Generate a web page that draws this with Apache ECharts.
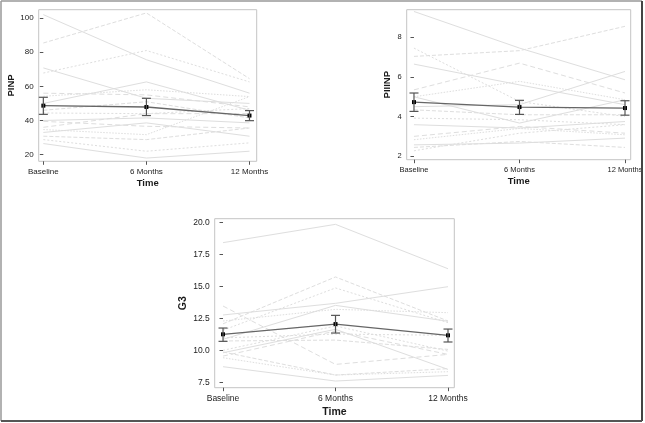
<!DOCTYPE html>
<html><head><meta charset="utf-8">
<script src="https://cdn.jsdelivr.net/npm/echarts@6/dist/echarts.min.js"></script>
<style>html,body{margin:0;padding:0;background:#fff}#c{width:645px;height:423px}</style>
</head><body><div id="c"></div>
<script>
// ---- Data ----
const timeLabels = ['Baseline', '6 Months', '12 Months'];

// PINP: individual subjects [Baseline, 6 Months, 12 Months]
const pinpSubjects = [
  [102, 75.6, 56], [85.4, 103, 64.5], [67.8, 81, 62.6], [70.8, 53, 50],
  [56, 55, 48], [54.2, 58, 54], [50, 62.6, 46], [46, 51, 41.5],
  [44.4, 44, 47], [40, 41.5, 38.6], [39.5, 36.6, 35.6], [34.7, 31.7, 54],
  [33, 38.6, 30.8], [30.8, 28.8, 35.6], [28.8, 22, 26.9], [26.5, 18, 22],
  [36, 44, 44]
];
const pinpMean = [48.7, 47.9, 42.9];
const pinpLow = [43.6, 42.9, 39.9];
const pinpHigh = [53.6, 53.0, 45.8];
const pinpTicks = [20, 40, 60, 80, 100];

// PIIINP
const piiinpSubjects = [
  [9.31, 7.46, 5.86], [7.04, 7.33, 8.56], [7.46, 4.76, 4.0], [6.65, 5.6, 4.6],
  [5.35, 6.7, 5.19], [5.0, 5.78, 4.85], [4.5, 4.6, 6.28], [4.34, 4.09, 4.09],
  [3.92, 3.84, 3.59], [3.59, 3.42, 3.75], [3.0, 3.5, 3.16], [2.83, 3.4, 3.08],
  [2.57, 2.66, 2.91], [2.44, 2.74, 2.44], [2.27, 3.16, 3.59], [5.0, 3.67, 4.85]
];
const piiinpMean = [4.73, 4.48, 4.43];
const piiinpLow = [4.26, 4.11, 4.07];
const piiinpHigh = [5.19, 4.82, 4.80];
const piiinpTicks = [2, 4, 6, 8];

// G3
const g3Subjects = [
  [18.44, 19.87, 16.4], [12.1, 15.76, 12.32], [11.6, 14.9, 12.19], [12.79, 13.7, 15.0],
  [13.49, 8.93, 9.71], [12.32, 13.23, 12.97], [10.89, 13.54, 12.3], [10.76, 10.83, 10.1],
  [10.03, 11.93, 9.97], [9.84, 11.67, 8.54], [9.58, 11.54, 9.71], [9.45, 8.1, 8.36],
  [8.75, 7.63, 8.07], [9.9, 8.1, 8.6], [11.0, 11.3, 11.2]
];
const g3Mean = [11.28, 12.08, 11.2];
const g3Low = [10.73, 11.38, 10.68];
const g3High = [11.77, 12.76, 11.69];
const g3Ticks = [7.5, 10.0, 12.5, 15.0, 17.5, 20.0];

// ---- Build ----
const FONT = 'Liberation Sans, Arial, sans-serif';
const panels = [
  {name: 'PINP', subjects: pinpSubjects, mean: pinpMean, low: pinpLow, high: pinpHigh, ticks: pinpTicks,
   grid: {left: 38.7, top: 9.7, width: 218, height: 151.6}, xmin: -0.045, xmax: 2.07, ymin: 16.1, ymax: 104.9,
   fs: 8, nfs: 9.5, yGap: 22.5, xGap: 17.5, fmt: v => String(v)},
  {name: 'PIIINP', subjects: piiinpSubjects, mean: piiinpMean, low: piiinpLow, high: piiinpHigh, ticks: piiinpTicks,
   grid: {left: 406.7, top: 9.7, width: 224, height: 150}, xmin: -0.069, xmax: 2.054, ymin: 1.82, ymax: 9.40,
   fs: 7.5, nfs: 9.5, yGap: 14, xGap: 17, fmt: v => String(v)},
  {name: 'G3', subjects: g3Subjects, mean: g3Mean, low: g3Low, high: g3High, ticks: g3Ticks,
   grid: {left: 214.7, top: 218.7, width: 239.6, height: 169}, xmin: -0.074, xmax: 2.056, ymin: 7.11, ymax: 20.31,
   fs: 8.5, nfs: 10.5, yGap: 26.5, xGap: 18.5, fmt: v => v.toFixed(1)}
];

const dashTypes = ['solid', [4, 2], [2, 2], 'solid', [5, 3], [1.5, 1.5]];
const grids = [], xAxes = [], yAxes = [], series = [];

panels.forEach((p, i) => {
  grids.push(Object.assign({show: true, borderColor: '#c4c4c4', borderWidth: 1, backgroundColor: '#fff', outerBoundsMode: 'none', containLabel: false}, p.grid));
  xAxes.push({
    type: 'value', gridIndex: i, min: p.xmin, max: p.xmax,
    name: 'Time', nameLocation: 'middle', nameGap: p.xGap,
    nameTextStyle: {fontFamily: FONT, fontWeight: 'bold', fontSize: p.nfs, color: '#1a1a1a'},
    axisLine: {show: false}, splitLine: {show: false},
    axisTick: {show: true, length: 3.5, lineStyle: {color: '#555'}, customValues: [0, 1, 2]},
    axisLabel: {customValues: [0, 1, 2], formatter: v => timeLabels[Math.round(v)], fontFamily: FONT, fontSize: p.fs, color: '#222', margin: 6}
  });
  yAxes.push({
    type: 'value', gridIndex: i, min: p.ymin, max: p.ymax,
    name: p.name, nameLocation: 'middle', nameGap: p.yGap, nameRotate: 90,
    nameTextStyle: {fontFamily: FONT, fontWeight: 'bold', fontSize: p.nfs, color: '#1a1a1a'},
    axisLine: {show: false}, splitLine: {show: false},
    axisTick: {show: true, length: 3.5, lineStyle: {color: '#555'}, customValues: p.ticks},
    axisLabel: {customValues: p.ticks, formatter: p.fmt, fontFamily: FONT, fontSize: p.fs, color: '#222', margin: 5}
  });
  p.subjects.forEach((s, k) => {
    series.push({
      type: 'line', xAxisIndex: i, yAxisIndex: i, symbol: 'none', silent: true, z: 1,
      data: s.map((v, t) => [t, v]),
      lineStyle: {color: '#dedede', width: 1, type: dashTypes[k % dashTypes.length]}
    });
  });
  series.push({
    type: 'line', xAxisIndex: i, yAxisIndex: i, z: 5,
    data: p.mean.map((v, t) => [t, v]),
    symbol: 'rect', symbolSize: 4, itemStyle: {color: '#000'},
    lineStyle: {color: '#666', width: 1.3}
  });
  series.push({
    type: 'custom', xAxisIndex: i, yAxisIndex: i, z: 6,
    data: p.low.map((lo, t) => [t, lo, p.high[t]]),
    renderItem: (params, api) => {
      const lo = api.coord([api.value(0), api.value(1)]);
      const hi = api.coord([api.value(0), api.value(2)]);
      const w = 4.5;
      const st = {stroke: '#555', lineWidth: 1.2};
      return {type: 'group', children: [
        {type: 'line', shape: {x1: lo[0], y1: lo[1], x2: hi[0], y2: hi[1]}, style: st},
        {type: 'line', shape: {x1: lo[0] - w, y1: lo[1], x2: lo[0] + w, y2: lo[1]}, style: st},
        {type: 'line', shape: {x1: hi[0] - w, y1: hi[1], x2: hi[0] + w, y2: hi[1]}, style: st}
      ]};
    }
  });
});

const chart = echarts.init(document.getElementById('c'), null, {renderer: 'canvas'});
chart.setOption({
  animation: false,
  backgroundColor: '#fff',
  grid: grids, xAxis: xAxes, yAxis: yAxes, series: series,
  graphic: [
    {type: 'line', shape: {x1: 1, y1: 1, x2: 642, y2: 1}, style: {stroke: '#999', lineWidth: 1.5}, z: 100},
    {type: 'line', shape: {x1: 1, y1: 1, x2: 1, y2: 421}, style: {stroke: '#999', lineWidth: 1.5}, z: 100},
    {type: 'line', shape: {x1: 642, y1: 1, x2: 642, y2: 421}, style: {stroke: '#444', lineWidth: 2}, z: 100},
    {type: 'line', shape: {x1: 1, y1: 421, x2: 642, y2: 421}, style: {stroke: '#555', lineWidth: 2}, z: 100}
  ]
});
</script></body></html>
